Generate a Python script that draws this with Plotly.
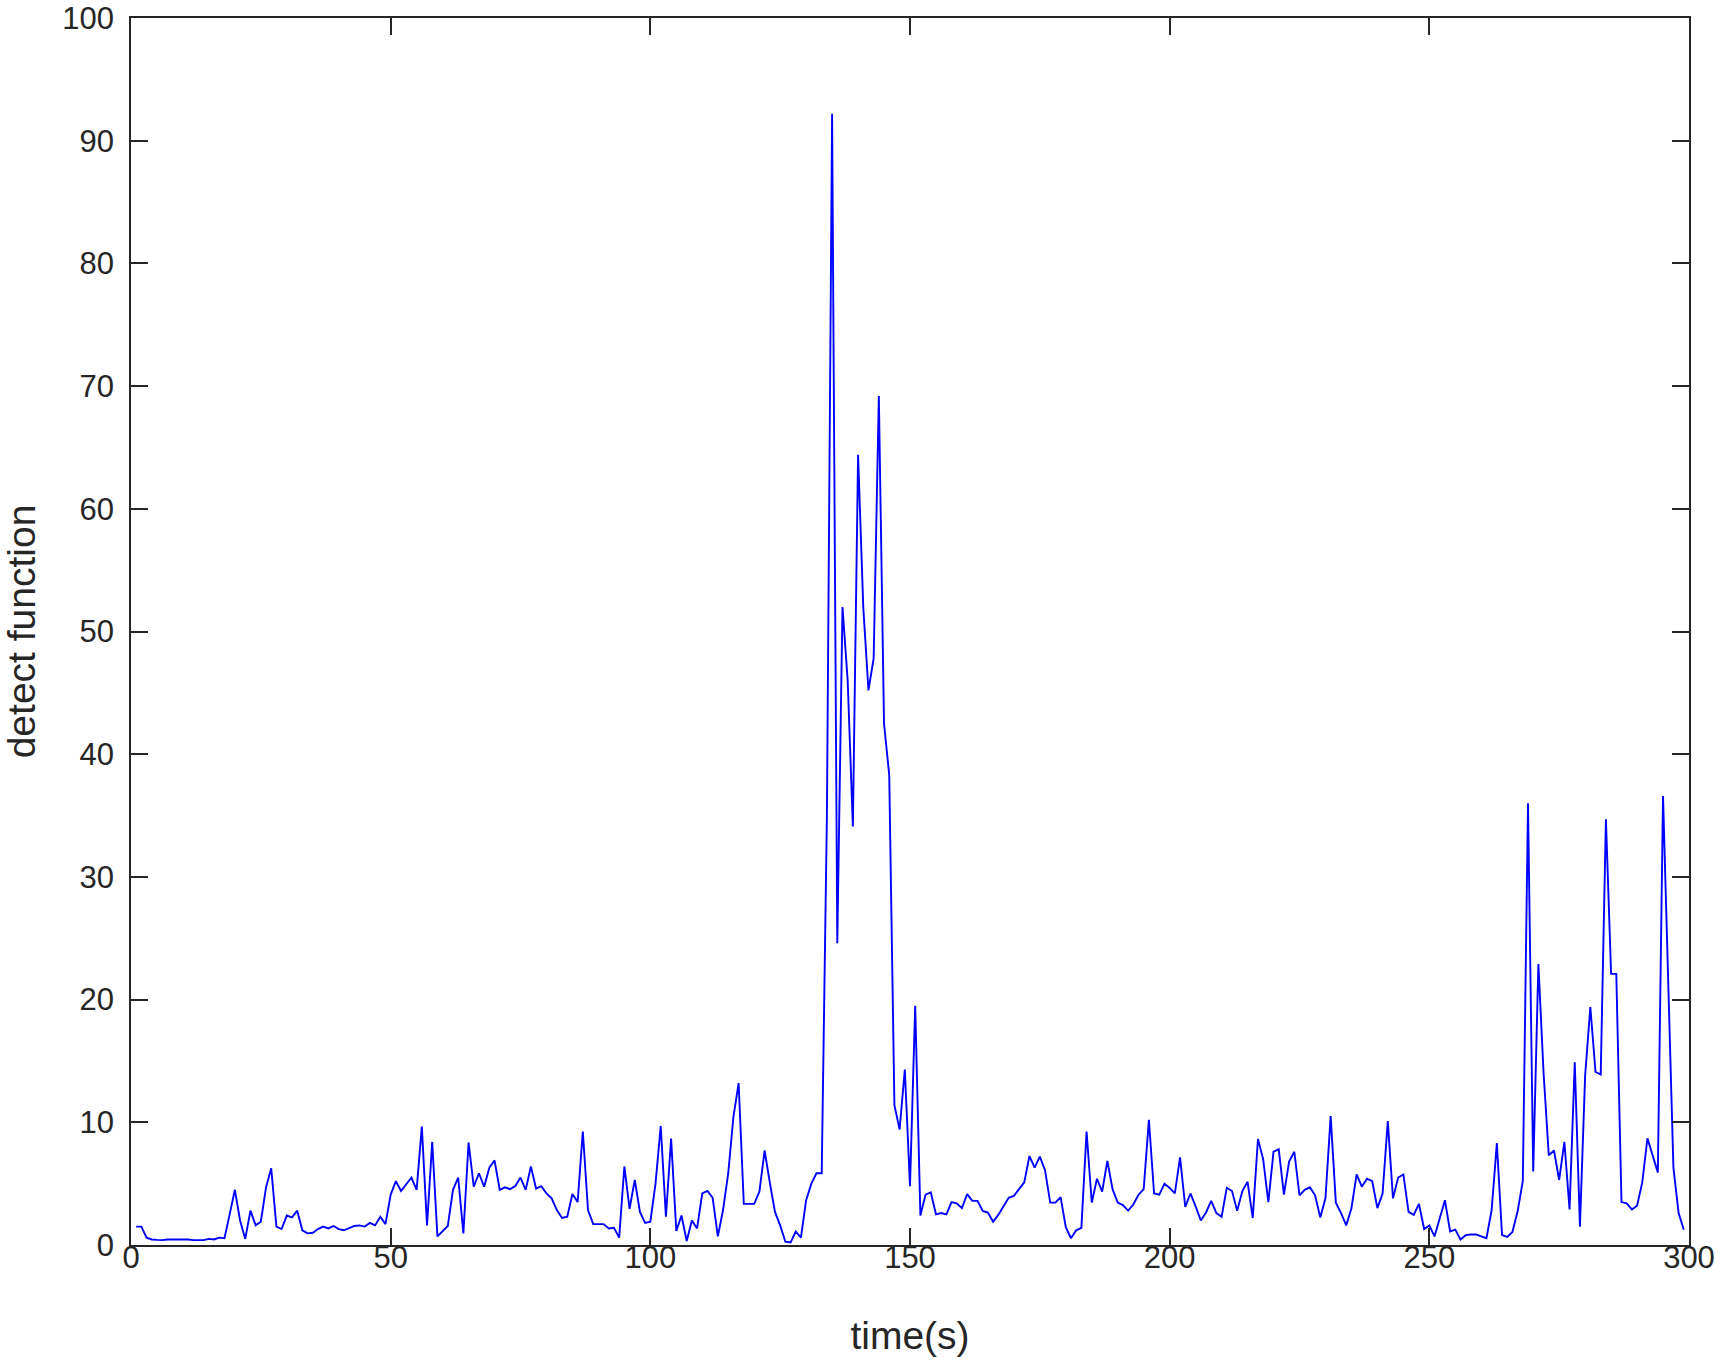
import plotly.graph_objects as go

# time in seconds (one sample per second)
t_start = 1
values_1_50 = [1.5, 1.5, 0.6, 0.45, 0.42, 0.4, 0.45, 0.45, 0.5, 0.5,
               0.45, 0.4, 0.4, 0.4, 0.5, 0.45, 0.6, 0.55, 2.5, 4.5,
               2.0, 0.5, 2.8, 1.6, 1.9, 4.7, 6.25, 1.5, 1.3, 2.4,
               2.25, 2.8, 1.2, 0.95, 1.0, 1.3, 1.5, 1.35, 1.55, 1.3,
               1.2, 1.35, 1.55, 1.6, 1.5, 1.8, 1.6, 2.3, 1.7, 4.1]
values_51_100 = [5.2, 4.4, 5.0, 5.5, 4.5, 9.65, 1.6, 8.4, 0.7, 1.1,
                 1.55, 4.5, 5.5, 0.95, 8.35, 4.75, 5.85, 4.75, 6.3, 6.9,
                 4.5, 4.7, 4.55, 4.8, 5.5, 4.5, 6.4, 4.6, 4.8, 4.2,
                 3.8, 2.85, 2.2, 2.3, 4.15, 3.5, 9.25, 2.85, 1.7, 1.7,
                 1.7, 1.35, 1.4, 0.6, 6.4, 2.95, 5.3, 2.7, 1.8, 1.9]
values_101_150 = [5.0, 9.7, 2.3, 8.67, 1.15, 2.4, 0.33, 2.0, 1.35, 4.2,
                  4.4, 3.85, 0.7, 2.85, 5.85, 10.45, 13.2, 3.35, 3.35, 3.35,
                  4.35, 7.7, 5.1, 2.7, 1.6, 0.27, 0.2, 1.1, 0.6, 3.65,
                  5.0, 5.85, 5.85, 35.0, 92.2, 24.6, 52.0, 46.0, 34.1, 64.4,
                  52.0, 45.2, 47.8, 69.2, 42.5, 38.3, 11.4, 9.4, 14.3, 4.8]
values_151_200 = [19.5, 2.4, 4.1, 4.3, 2.5, 2.6, 2.5, 3.5, 3.4, 3.0,
                  4.15, 3.6, 3.6, 2.77, 2.65, 1.9, 2.45, 3.1, 3.85, 4.0,
                  4.6, 5.1, 7.25, 6.3, 7.2, 6.1, 3.45, 3.45, 3.9, 1.45,
                  0.55, 1.2, 1.4, 9.25, 3.45, 5.4, 4.35, 6.85, 4.55, 3.45,
                  3.25, 2.8, 3.3, 4.1, 4.55, 10.2, 4.2, 4.1, 5.0, 4.65]
values_201_250 = [4.2, 7.15, 3.1, 4.2, 3.15, 2.0, 2.65, 3.6, 2.6, 2.3,
                  4.67, 4.4, 2.8, 4.4, 5.15, 2.2, 8.64, 7.0, 3.5, 7.6,
                  7.8, 4.1, 6.8, 7.6, 4.05, 4.5, 4.7, 4.05, 2.25, 3.8,
                  10.5, 3.45, 2.6, 1.6, 3.0, 5.75, 4.75, 5.4, 5.2, 3.0,
                  4.2, 10.1, 3.8, 5.5, 5.75, 2.7, 2.45, 3.35, 1.3, 1.6]
values_251_299 = [0.7, 2.2, 3.65, 1.1, 1.25, 0.45, 0.8, 0.85, 0.85, 0.7,
                  0.55, 2.85, 8.3, 0.8, 0.65, 1.06, 2.75, 5.2, 36.0, 6.0,
                  22.9, 14.0, 7.3, 7.7, 5.3, 8.4, 2.9, 14.9, 1.5, 13.8,
                  19.4, 14.1, 13.9, 34.7, 22.1, 22.1, 3.5, 3.4, 2.9, 3.2,
                  5.1, 8.7, 7.3, 5.9, 36.6, 21.0, 6.3, 2.6, 1.25]

detect = (values_1_50 + values_51_100 + values_101_150 +
          values_151_200 + values_201_250 + values_251_299)
time_s = list(range(t_start, t_start + len(detect)))

x_ticks = [0, 50, 100, 150, 200, 250, 300]
y_ticks = [0, 10, 20, 30, 40, 50, 60, 70, 80, 90, 100]

axis_color = "#262626"
font_family = "Liberation Sans, Arial, sans-serif"

fig = go.Figure()
fig.add_trace(go.Scatter(x=time_s, y=detect, mode="lines",
                         line=dict(color="#0000FF", width=1.9),
                         showlegend=False))

axis_common = dict(showline=True, linecolor=axis_color, linewidth=1.8,
                   mirror="ticks", ticks="inside", ticklen=17, tickwidth=1.8,
                   tickcolor=axis_color, showgrid=False, zeroline=False,
                   automargin=False, ticklabeloverflow="allow",
                   tickfont=dict(family=font_family, size=31, color=axis_color))

fig.update_layout(
    width=1723, height=1366,
    margin=dict(l=131, r=34, t=18, b=121),
    paper_bgcolor="white", plot_bgcolor="white",
    xaxis=dict(range=[0, 300], tickvals=x_ticks, ticklabelstandoff=-16,
               title=dict(text="time(s)", standoff=48,
                          font=dict(family=font_family, size=39, color=axis_color)),
               **axis_common),
    yaxis=dict(range=[0, 100], tickvals=y_ticks, ticklabelstandoff=9,
               title=dict(text="detect function", standoff=27,
                          font=dict(family=font_family, size=39, color=axis_color)),
               **axis_common),
)

fig.write_html("out.html",
               config={"displayModeBar": False},
               post_script="document.body.style.margin='0px';")
